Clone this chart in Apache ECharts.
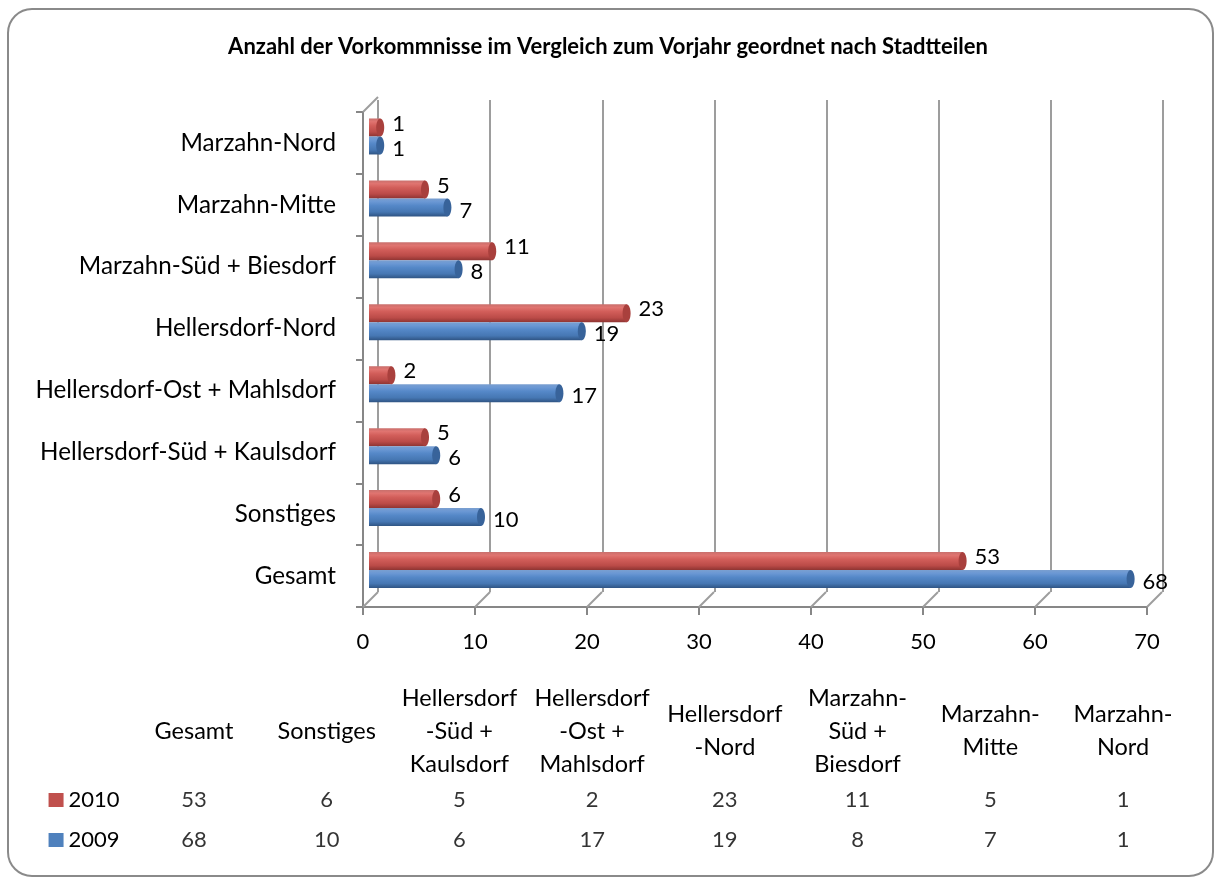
<!DOCTYPE html>
<html><head><meta charset="utf-8">
<script src="https://cdn.jsdelivr.net/npm/echarts@6/dist/echarts.min.js"></script>
<style>html,body{margin:0;padding:0;background:#fff}#chart{width:1216px;height:883px}</style>
</head><body><div id="chart"></div>
<script>
const chartTitle = 'Anzahl der Vorkommnisse im Vergleich zum Vorjahr geordnet nach Stadtteilen';
const categories = ['Gesamt','Sonstiges','Hellersdorf-Süd + Kaulsdorf','Hellersdorf-Ost + Mahlsdorf','Hellersdorf-Nord','Marzahn-Süd + Biesdorf','Marzahn-Mitte','Marzahn-Nord'];
const tableHeaders = ['Gesamt','Sonstiges','Hellersdorf\n-Süd +\nKaulsdorf','Hellersdorf\n-Ost +\nMahlsdorf','Hellersdorf\n-Nord','Marzahn-\nSüd +\nBiesdorf','Marzahn-\nMitte','Marzahn-\nNord'];
const values2010 = [53,6,5,2,23,11,5,1];
const values2009 = [68,10,6,17,19,8,7,1];
const tableRows = ['2009','2010'];
const xMin = 0, xMax = 70, xStep = 10;
const xTicks = [0,10,20,30,40,50,60,70];

const FONT = 'Lato';
const RED = '#C0504D', BLUE = '#4F81BD';
const grad = (c0,c1,c2,c3,c4) => new echarts.graphic.LinearGradient(0,0,0,1,[
  {offset:0,color:c0},{offset:0.18,color:c1},{offset:0.4,color:c2},{offset:0.75,color:c3},{offset:1,color:c4}]);
const redGrad = grad('#c9706d','#e07470','#d25e5a','#bb4b48','#8e3432');
const blueGrad = grad('#7a9fd0','#6b98d4','#5588c8','#4677b3','#2f5483');
const BAR_H = 18;

function capRender(sign, fill) {
  return function (params, api) {
    const p = api.coord([api.value(0), api.value(1)]);
    return {type:'ellipse', shape:{cx:p[0], cy:p[1] + sign*BAR_H/2, rx:4, ry:BAR_H/2},
      style:{fill: fill}};
  };
}

const chart = echarts.init(document.getElementById('chart'), null, {renderer:'canvas'});
chart.setOption({
  animation:false,
  backgroundColor:'#fff',
  title:{text:chartTitle, left:'center', top:31,
    textStyle:{fontFamily:FONT, fontSize:22, fontWeight:'bold', color:'#000'}},
  graphic:[{type:'rect', shape:{x:8,y:9,width:1205,height:867,r:24}, z:-10,
    style:{fill:'#fff', stroke:'#8a8a8a', lineWidth:2}}],
  grid:[
    {left:378, right:53, top:100, bottom:291},
    {left:363, right:69, top:112, bottom:276},
    {left:369, right:63, top:105.5, bottom:282},
    {left:127.6, right:26.6, top:780, bottom:23}
  ],
  xAxis:[
    {gridIndex:0, type:'value', min:xMin, max:xMax, interval:xStep,
      axisLine:{show:false}, axisTick:{show:false}, axisLabel:{show:false},
      splitLine:{show:true, lineStyle:{color:'#9d9d9d', width:2}}},
    {gridIndex:1, type:'value', min:xMin, max:xMax, interval:xStep,
      axisLine:{show:true, lineStyle:{color:'#878787', width:2}},
      axisTick:{show:true, length:8, lineStyle:{color:'#878787', width:2}},
      axisLabel:{fontFamily:FONT, fontSize:22, color:'#000', margin:24},
      splitLine:{show:false}},
    {gridIndex:2, type:'value', min:xMin, max:xMax, show:false},
    {gridIndex:3, type:'category', data:tableHeaders, position:'top',
      axisLine:{show:false}, axisTick:{show:false},
      axisLabel:{interval:0, fontFamily:FONT, fontSize:23.5, lineHeight:33, color:'#000',
        verticalAlign:'middle', margin:49}}
  ],
  yAxis:[
    {gridIndex:0, type:'value', show:false},
    {gridIndex:1, type:'category', data:categories,
      axisLine:{show:true, lineStyle:{color:'#878787', width:2}},
      axisTick:{show:true, length:7, lineStyle:{color:'#878787', width:2}},
      axisLabel:{fontFamily:FONT, fontSize:24.2, color:'#000', margin:27}},
    {gridIndex:2, type:'category', data:categories, show:false},
    {gridIndex:3, type:'category', data:tableRows,
      axisLine:{show:false}, axisTick:{show:false},
      axisLabel:{margin:8, formatter: v => '{s' + v + '|}{t|' + v + '}',
        rich:{
          s2010:{width:15, height:14, backgroundColor:RED},
          s2009:{width:15, height:14, backgroundColor:BLUE},
          t:{fontFamily:FONT, fontSize:22, color:'#000', padding:[0,0,0,5]}
        }}}
  ],
  series:[
    {type:'custom', xAxisIndex:1, yAxisIndex:1, silent:true, z:1,
      data: xTicks.map(v => [v]),
      renderItem: function (params, api) {
        const cs = params.coordSys;
        const x = api.coord([api.value(0), 0])[0];
        const bottom = cs.y + cs.height;
        const children = [{type:'line', shape:{x1:x, y1:bottom, x2:x+15, y2:bottom-15},
          style:{stroke:'#9d9d9d', lineWidth:2}}];
        if (params.dataIndex === 0) {
          children.push({type:'line', shape:{x1:cs.x, y1:cs.y, x2:cs.x+15, y2:cs.y-15},
            style:{stroke:'#9d9d9d', lineWidth:2}});
        }
        return {type:'group', children: children};
      }},
    {name:'2010', type:'bar', xAxisIndex:2, yAxisIndex:2, data:values2010,
      barWidth:BAR_H, barGap:'0%', z:3, itemStyle:{color:redGrad},
      label:{show:true, position:'right', distance:12, offset:[0,-4],
        fontFamily:FONT, fontSize:22, color:'#000'}},
    {name:'2009', type:'bar', xAxisIndex:2, yAxisIndex:2, data:values2009,
      barWidth:BAR_H, barGap:'0%', z:3, itemStyle:{color:blueGrad},
      label:{show:true, position:'right', distance:12, offset:[0,3],
        fontFamily:FONT, fontSize:22, color:'#000'}},
    {type:'custom', xAxisIndex:2, yAxisIndex:2, silent:true, z:4,
      data: values2010.map((v,i) => [v,i]), renderItem: capRender(-1, '#a9403d')},
    {type:'custom', xAxisIndex:2, yAxisIndex:2, silent:true, z:4,
      data: values2009.map((v,i) => [v,i]), renderItem: capRender(1, '#38639a')},
    {type:'scatter', xAxisIndex:3, yAxisIndex:3, silent:true, symbolSize:1,
      itemStyle:{color:'rgba(0,0,0,0)'},
      data: values2010.map((v,i) => [i, 1, v]),
      label:{show:true, position:'inside', formatter: p => p.value[2],
        fontFamily:FONT, fontSize:22, color:'#000'}},
    {type:'scatter', xAxisIndex:3, yAxisIndex:3, silent:true, symbolSize:1,
      itemStyle:{color:'rgba(0,0,0,0)'},
      data: values2009.map((v,i) => [i, 0, v]),
      label:{show:true, position:'inside', formatter: p => p.value[2],
        fontFamily:FONT, fontSize:22, color:'#000'}}
  ]
});
</script></body></html>
